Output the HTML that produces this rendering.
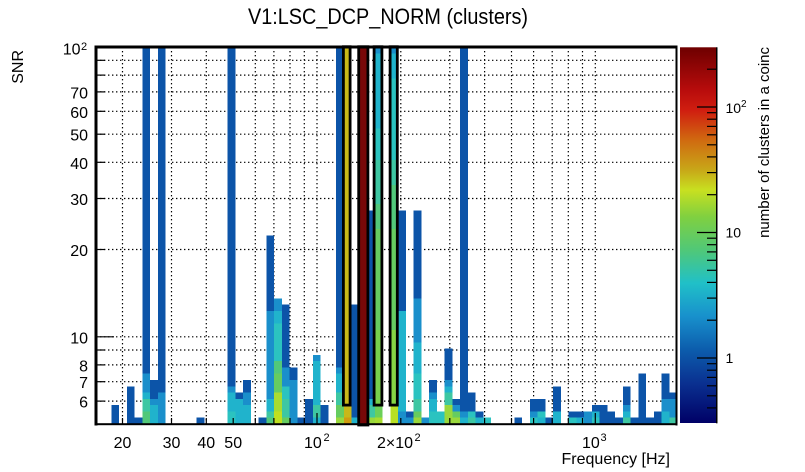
<!DOCTYPE html>
<html><head><meta charset="utf-8"><style>body{margin:0;background:#fff}svg{display:block}</style></head>
<body>
<svg width="805" height="472" viewBox="0 0 805 472" xmlns="http://www.w3.org/2000/svg" font-family="'Liberation Sans', Arial, sans-serif">
<style>
.B{fill:#0c54a8}.LB{fill:#1a8fcb}.CY{fill:#20b3cc}.CT{fill:#2bc3c0}.TE{fill:#3ec7a2}.GR{fill:#52c87a}.G2{fill:#66cc60}.LG{fill:#9ad83c}.YG{fill:#b8e024}.OL{fill:#c8b818}.OR{fill:#d09c10}.DR{fill:#780808}
.g{stroke:#000;stroke-width:1.2;stroke-dasharray:1.4 2.6;fill:none}
.t{stroke:#000;stroke-width:1.2}
</style>
<defs>
<linearGradient id="pal" x1="0" y1="0" x2="0" y2="1">
<stop offset="0" stop-color="#6e0000"/>
<stop offset="0.114" stop-color="#b80c0c"/>
<stop offset="0.168" stop-color="#d01e10"/>
<stop offset="0.247" stop-color="#d06a10"/>
<stop offset="0.327" stop-color="#c8a818"/>
<stop offset="0.38" stop-color="#c8e020"/>
<stop offset="0.451" stop-color="#80d040"/>
<stop offset="0.54" stop-color="#50c878"/>
<stop offset="0.628" stop-color="#20c0c8"/>
<stop offset="0.717" stop-color="#1890cc"/>
<stop offset="0.806" stop-color="#0c5cac"/>
<stop offset="0.895" stop-color="#0a3090"/>
<stop offset="1" stop-color="#000066"/>
</linearGradient>
</defs>

<!-- title -->
<text x="248" y="24" font-size="22" textLength="280" lengthAdjust="spacingAndGlyphs">V1:LSC_DCP_NORM (clusters)</text>

<!-- grid -->
<g class="g">
<line x1="96" y1="60.3" x2="677" y2="60.3"/>
<line x1="96" y1="75.1" x2="677" y2="75.1"/>
<line x1="96" y1="91.9" x2="677" y2="91.9"/>
<line x1="96" y1="111.3" x2="677" y2="111.3"/>
<line x1="96" y1="134.2" x2="677" y2="134.2"/>
<line x1="96" y1="162.3" x2="677" y2="162.3"/>
<line x1="96" y1="198.5" x2="677" y2="198.5"/>
<line x1="96" y1="249.5" x2="677" y2="249.5"/>
<line x1="96" y1="336.8" x2="677" y2="336.8"/>
<line x1="96" y1="350" x2="677" y2="350"/>
<line x1="96" y1="364.9" x2="677" y2="364.9"/>
<line x1="96" y1="381.7" x2="677" y2="381.7"/>
<line x1="96" y1="401.1" x2="677" y2="401.1"/>
<line x1="122.5" y1="47" x2="122.5" y2="424"/>
<line x1="171.5" y1="47" x2="171.5" y2="424"/>
<line x1="206.3" y1="47" x2="206.3" y2="424"/>
<line x1="233.2" y1="47" x2="233.2" y2="424"/>
<line x1="255.3" y1="47" x2="255.3" y2="424"/>
<line x1="273.9" y1="47" x2="273.9" y2="424"/>
<line x1="290" y1="47" x2="290" y2="424"/>
<line x1="304.3" y1="47" x2="304.3" y2="424"/>
<line x1="317" y1="47" x2="317" y2="424"/>
<line x1="400.8" y1="47" x2="400.8" y2="424"/>
<line x1="449.8" y1="47" x2="449.8" y2="424"/>
<line x1="484.6" y1="47" x2="484.6" y2="424"/>
<line x1="511.5" y1="47" x2="511.5" y2="424"/>
<line x1="533.6" y1="47" x2="533.6" y2="424"/>
<line x1="552.2" y1="47" x2="552.2" y2="424"/>
<line x1="568.3" y1="47" x2="568.3" y2="424"/>
<line x1="582.5" y1="47" x2="582.5" y2="424"/>
<line x1="595.3" y1="47" x2="595.3" y2="424"/>
</g>

<!-- histogram cells -->
<g transform="translate(96,424) scale(7.7467,-6.2833)" shape-rendering="crispEdges">
<rect x="2" y="0" width="1" height="3" class="B"/>
<rect x="4" y="0" width="1" height="6" class="B"/>
<rect x="5" y="0" width="1" height="1" class="B"/>
<rect x="6" y="0" width="1" height="2" class="GR"/><rect x="6" y="2" width="1" height="2" class="TE"/><rect x="6" y="4" width="1" height="1" class="CY"/><rect x="6" y="5" width="1" height="3" class="LB"/><rect x="6" y="8" width="1" height="52" class="B"/>
<rect x="7" y="0" width="1" height="3" class="CY"/><rect x="7" y="3" width="1" height="1" class="LB"/><rect x="7" y="4" width="1" height="3" class="B"/>
<rect x="8" y="0" width="1" height="5" class="LB"/><rect x="8" y="5" width="1" height="55" class="B"/>
<rect x="13" y="0" width="1" height="1" class="B"/>
<rect x="17" y="0" width="1" height="2" class="CT"/><rect x="17" y="2" width="1" height="3" class="CY"/><rect x="17" y="5" width="1" height="1" class="LB"/><rect x="17" y="6" width="1" height="54" class="B"/>
<rect x="18" y="0" width="1" height="4" class="CY"/><rect x="18" y="4" width="1" height="1" class="B"/>
<rect x="19" y="0" width="1" height="3" class="CY"/><rect x="19" y="3" width="1" height="2" class="LB"/><rect x="19" y="5" width="1" height="2" class="B"/>
<rect x="21" y="0" width="1" height="1" class="B"/>
<rect x="22" y="0" width="1" height="1" class="GR"/><rect x="22" y="1" width="1" height="1" class="TE"/><rect x="22" y="2" width="1" height="2" class="CY"/><rect x="22" y="4" width="1" height="14" class="LB"/><rect x="22" y="18" width="1" height="12" class="B"/>
<rect x="23" y="0" width="1" height="2" fill="#c0e020"/><rect x="23" y="2" width="1" height="3" fill="#a8dc30"/><rect x="23" y="5" width="1" height="3" class="G2"/><rect x="23" y="8" width="1" height="2" class="GR"/><rect x="23" y="10" width="1" height="6" class="CT"/><rect x="23" y="16" width="1" height="2" class="CY"/><rect x="23" y="18" width="1" height="2" class="LB"/>
<rect x="24" y="0" width="1" height="1" class="G2"/><rect x="24" y="1" width="1" height="3" class="TE"/><rect x="24" y="4" width="1" height="2" class="CT"/><rect x="24" y="6" width="1" height="3" class="LB"/><rect x="24" y="9" width="1" height="10" class="B"/>
<rect x="25" y="0" width="1" height="7" class="LB"/><rect x="25" y="7" width="1" height="2" class="B"/>
<rect x="26" y="0" width="1" height="1" class="B"/>
<rect x="27" y="0" width="1" height="4" class="B"/>
<rect x="28" y="0" width="1" height="1" class="CY"/><rect x="28" y="1" width="1" height="2" class="TE"/><rect x="28" y="3" width="1" height="7" class="CY"/><rect x="28" y="10" width="1" height="1" class="LB"/>
<rect x="29" y="0" width="1" height="3" class="B"/>
<rect x="31" y="0" width="1" height="1" class="LG"/><rect x="31" y="1" width="1" height="2" class="G2"/><rect x="31" y="3" width="1" height="2" class="TE"/><rect x="31" y="5" width="1" height="3" class="CY"/><rect x="31" y="8" width="1" height="1" class="LB"/><rect x="31" y="9" width="1" height="51" class="B"/>
<rect x="32" y="0" width="1" height="1" class="OR"/><rect x="32" y="1" width="1" height="59" class="OL"/>
<rect x="33" y="0" width="1" height="1" class="CY"/><rect x="33" y="1" width="1" height="18" class="B"/>
<rect x="34" y="0" width="1" height="60" class="DR"/>
<rect x="35" y="0" width="1" height="1" class="LG"/><rect x="35" y="1" width="1" height="2" class="TE"/><rect x="35" y="3" width="1" height="1" class="CY"/><rect x="35" y="4" width="1" height="30" class="B"/>
<rect x="36" y="0" width="1" height="1" fill="#a8dc30"/><rect x="36" y="1" width="1" height="2" fill="#6cd058"/><rect x="36" y="3" width="1" height="12" fill="#78d04c"/><rect x="36" y="15" width="1" height="16" class="G2"/><rect x="36" y="31" width="1" height="4" class="GR"/><rect x="36" y="35" width="1" height="7" class="TE"/><rect x="36" y="42" width="1" height="5" class="CT"/><rect x="36" y="47" width="1" height="12" class="CY"/><rect x="36" y="59" width="1" height="1" class="LB"/>
<rect x="38" y="0" width="1" height="3" class="YG"/><rect x="38" y="3" width="1" height="12" fill="#86d444"/><rect x="38" y="15" width="1" height="16" class="G2"/><rect x="38" y="31" width="1" height="7" class="GR"/><rect x="38" y="38" width="1" height="4" class="TE"/><rect x="38" y="42" width="1" height="13" class="CT"/><rect x="38" y="55" width="1" height="4" class="CY"/><rect x="38" y="59" width="1" height="1" class="LB"/>
<rect x="39" y="0" width="1" height="2" class="LB"/><rect x="39" y="2" width="1" height="16" class="CY"/><rect x="39" y="18" width="1" height="16" class="B"/>
<rect x="40" y="0" width="1" height="1" class="LB"/><rect x="40" y="1" width="1" height="1" class="B"/>
<rect x="41" y="0" width="1" height="1" class="LG"/><rect x="41" y="1" width="1" height="1" class="G2"/><rect x="41" y="2" width="1" height="2" class="TE"/><rect x="41" y="4" width="1" height="4" class="CT"/><rect x="41" y="8" width="1" height="5" class="CY"/><rect x="41" y="13" width="1" height="7" class="LB"/><rect x="41" y="20" width="1" height="14" class="B"/>
<rect x="42" y="0" width="1" height="1" class="LB"/>
<rect x="43" y="0" width="1" height="2" class="CT"/><rect x="43" y="2" width="1" height="2" class="CY"/><rect x="43" y="4" width="1" height="1" class="LB"/><rect x="43" y="5" width="1" height="2" class="B"/>
<rect x="44" y="0" width="1" height="2" class="CT"/>
<rect x="45" y="0" width="1" height="3" class="LG"/><rect x="45" y="3" width="1" height="2" class="TE"/><rect x="45" y="5" width="1" height="1" class="CY"/><rect x="45" y="6" width="1" height="1" class="LB"/><rect x="45" y="7" width="1" height="5" class="B"/>
<rect x="46" y="0" width="1" height="1" class="LG"/><rect x="46" y="1" width="1" height="1" class="G2"/><rect x="46" y="2" width="1" height="1" class="LB"/><rect x="46" y="3" width="1" height="1" class="B"/>
<rect x="47" y="0" width="1" height="1" class="CY"/><rect x="47" y="1" width="1" height="1" class="LB"/><rect x="47" y="2" width="1" height="58" class="B"/>
<rect x="48" y="0" width="1" height="1" class="TE"/><rect x="48" y="1" width="1" height="1" class="CT"/><rect x="48" y="2" width="1" height="3" class="B"/>
<rect x="49" y="0" width="1" height="1" class="CY"/><rect x="49" y="1" width="1" height="1" class="B"/>
<rect x="50" y="0" width="1" height="1" class="CT"/>
<rect x="54" y="0" width="1" height="1" class="B"/>
<rect x="56" y="0" width="1" height="1" class="CT"/><rect x="56" y="1" width="1" height="1" class="LB"/><rect x="56" y="2" width="1" height="2" class="B"/>
<rect x="57" y="0" width="1" height="1" class="CY"/><rect x="57" y="1" width="1" height="1" class="CT"/><rect x="57" y="2" width="1" height="2" class="B"/>
<rect x="58" y="0" width="1" height="1" class="B"/>
<rect x="59" y="0" width="1" height="2" class="CY"/><rect x="59" y="2" width="1" height="4" class="B"/>
<rect x="61" y="0" width="1" height="1" class="CT"/><rect x="61" y="1" width="1" height="1" class="B"/>
<rect x="62" y="0" width="1" height="1" class="CY"/><rect x="62" y="1" width="1" height="1" class="B"/>
<rect x="63" y="0" width="1" height="2" class="LB"/>
<rect x="64" y="0" width="1" height="1" class="CT"/><rect x="64" y="1" width="1" height="1" class="CY"/><rect x="64" y="2" width="1" height="1" class="B"/>
<rect x="65" y="0" width="1" height="3" class="B"/>
<rect x="66" y="0" width="1" height="2" class="B"/>
<rect x="67" y="0" width="1" height="1" class="B"/>
<rect x="68" y="0" width="1" height="1" class="TE"/><rect x="68" y="1" width="1" height="1" class="CY"/><rect x="68" y="2" width="1" height="1" class="LB"/><rect x="68" y="3" width="1" height="3" class="B"/>
<rect x="69" y="0" width="1" height="1" class="B"/>
<rect x="70" y="0" width="1" height="8" class="B"/>
<rect x="71" y="0" width="1" height="1" class="B"/>
<rect x="72" y="0" width="1" height="2" class="B"/>
<rect x="73" y="0" width="1" height="2" class="CY"/><rect x="73" y="2" width="1" height="2" class="LB"/><rect x="73" y="4" width="1" height="4" class="B"/>
<rect x="74" y="0" width="1" height="1" class="TE"/><rect x="74" y="1" width="1" height="3" class="LB"/><rect x="74" y="4" width="1" height="1" class="B"/>
</g>

<!-- coincidence outlines -->
<g fill="none" stroke="#000" stroke-width="2.8">
<rect x="343.4" y="46.7" width="6.7" height="358.4"/>
<rect x="358.7" y="46.7" width="9.2" height="378.3"/>
<rect x="374.1" y="46.7" width="7.8" height="358.4"/>
<rect x="390.1" y="46.7" width="7.2" height="358.4"/>
</g>

<!-- axis ticks -->
<g class="t">
<line x1="96" y1="336.8" x2="114" y2="336.8"/>
<line x1="96" y1="60.3" x2="105" y2="60.3"/>
<line x1="96" y1="75.1" x2="105" y2="75.1"/>
<line x1="96" y1="91.9" x2="105" y2="91.9"/>
<line x1="96" y1="111.3" x2="105" y2="111.3"/>
<line x1="96" y1="134.2" x2="105" y2="134.2"/>
<line x1="96" y1="162.3" x2="105" y2="162.3"/>
<line x1="96" y1="198.5" x2="105" y2="198.5"/>
<line x1="96" y1="249.5" x2="105" y2="249.5"/>
<line x1="96" y1="350" x2="105" y2="350"/>
<line x1="96" y1="364.9" x2="105" y2="364.9"/>
<line x1="96" y1="381.7" x2="105" y2="381.7"/>
<line x1="96" y1="401.1" x2="105" y2="401.1"/>
<line x1="122.5" y1="424" x2="122.5" y2="418"/>
<line x1="171.5" y1="424" x2="171.5" y2="418"/>
<line x1="206.3" y1="424" x2="206.3" y2="418"/>
<line x1="233.2" y1="424" x2="233.2" y2="418"/>
<line x1="255.3" y1="424" x2="255.3" y2="418"/>
<line x1="273.9" y1="424" x2="273.9" y2="418"/>
<line x1="290" y1="424" x2="290" y2="418"/>
<line x1="304.3" y1="424" x2="304.3" y2="418"/>
<line x1="317" y1="424" x2="317" y2="413"/>
<line x1="400.8" y1="424" x2="400.8" y2="418"/>
<line x1="449.8" y1="424" x2="449.8" y2="418"/>
<line x1="484.6" y1="424" x2="484.6" y2="418"/>
<line x1="511.5" y1="424" x2="511.5" y2="418"/>
<line x1="533.6" y1="424" x2="533.6" y2="418"/>
<line x1="552.2" y1="424" x2="552.2" y2="418"/>
<line x1="568.3" y1="424" x2="568.3" y2="418"/>
<line x1="582.5" y1="424" x2="582.5" y2="418"/>
<line x1="595.3" y1="424" x2="595.3" y2="413"/>
</g>

<!-- frame -->
<rect x="94.5" y="45.5" width="583" height="3" fill="#000"/>
<rect x="94.5" y="45.5" width="3" height="380" fill="#000"/>
<rect x="94.5" y="423.2" width="583" height="2" fill="#000"/>
<rect x="675.5" y="45.5" width="2" height="380" fill="#000"/>

<!-- y labels -->
<g font-size="16" text-anchor="end">
<text x="80.5" y="54.5">10</text>
<text x="88" y="98.4">70</text>
<text x="88" y="117.8">60</text>
<text x="88" y="140.7">50</text>
<text x="88" y="168.8">40</text>
<text x="88" y="205">30</text>
<text x="88" y="256">20</text>
<text x="88" y="343.3">10</text>
<text x="88" y="371.4">8</text>
<text x="88" y="388.2">7</text>
<text x="88" y="407.6">6</text>
</g>
<text x="81" y="50" font-size="11">2</text>
<text transform="translate(23,50) rotate(-90)" font-size="16" text-anchor="end">SNR</text>

<!-- x labels -->
<g font-size="16" text-anchor="middle">
<text x="122.5" y="448">20</text>
<text x="171.5" y="448">30</text>
<text x="206.3" y="448">40</text>
<text x="233.2" y="448">50</text>
</g>
<text x="304" y="448" font-size="16">10</text>
<text x="323.5" y="441" font-size="11">2</text>
<text x="377" y="448" font-size="16">2×10</text>
<text x="414.5" y="441" font-size="11">2</text>
<text x="582" y="448" font-size="16">10</text>
<text x="600.5" y="441" font-size="11">3</text>
<text x="670" y="464" font-size="16" text-anchor="end">Frequency [Hz]</text>

<!-- colorbar -->
<rect x="680" y="47.3" width="36.5" height="375.7" fill="url(#pal)"/>
<rect x="716" y="47.3" width="1.5" height="376" fill="#000"/>
<g class="t">
<line x1="697" y1="358" x2="717" y2="358"/>
<line x1="697" y1="232.5" x2="717" y2="232.5"/>
<line x1="697" y1="107" x2="717" y2="107"/>
<line x1="707" y1="407.9" x2="717" y2="407.9"/>
<line x1="707" y1="395.8" x2="717" y2="395.8"/>
<line x1="707" y1="385.8" x2="717" y2="385.8"/>
<line x1="707" y1="377.4" x2="717" y2="377.4"/>
<line x1="707" y1="370.2" x2="717" y2="370.2"/>
<line x1="707" y1="363.7" x2="717" y2="363.7"/>
<line x1="707" y1="320.2" x2="717" y2="320.2"/>
<line x1="707" y1="298.1" x2="717" y2="298.1"/>
<line x1="707" y1="282.4" x2="717" y2="282.4"/>
<line x1="707" y1="270.3" x2="717" y2="270.3"/>
<line x1="707" y1="260.3" x2="717" y2="260.3"/>
<line x1="707" y1="251.9" x2="717" y2="251.9"/>
<line x1="707" y1="244.7" x2="717" y2="244.7"/>
<line x1="707" y1="238.2" x2="717" y2="238.2"/>
<line x1="707" y1="194.7" x2="717" y2="194.7"/>
<line x1="707" y1="172.6" x2="717" y2="172.6"/>
<line x1="707" y1="156.9" x2="717" y2="156.9"/>
<line x1="707" y1="144.8" x2="717" y2="144.8"/>
<line x1="707" y1="134.8" x2="717" y2="134.8"/>
<line x1="707" y1="126.4" x2="717" y2="126.4"/>
<line x1="707" y1="119.2" x2="717" y2="119.2"/>
<line x1="707" y1="112.7" x2="717" y2="112.7"/>
<line x1="707" y1="69.2" x2="717" y2="69.2"/>
</g>
<g font-size="14">
<text x="725.5" y="113">10</text>
<text x="725.5" y="237.5">10</text>
<text x="725.5" y="363">1</text>
</g>
<text x="741" y="107" font-size="10">2</text>
<text transform="translate(769,47) rotate(-90)" font-size="15" text-anchor="end">number of clusters in a coinc</text>
</svg>
</body></html>
